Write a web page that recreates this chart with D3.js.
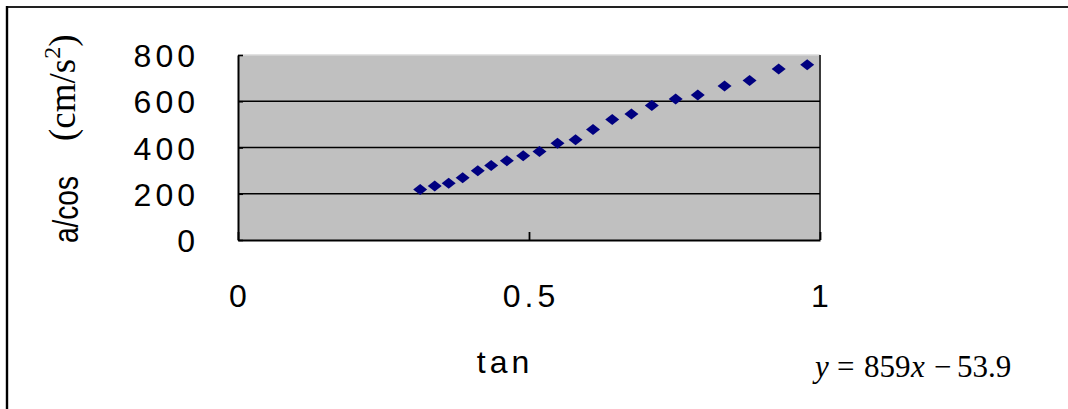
<!DOCTYPE html>
<html>
<head>
<meta charset="utf-8">
<script src="https://cdn.jsdelivr.net/npm/d3@7"></script>
<style>
  html, body { margin: 0; padding: 0; background: #fff; }
  svg { display: block; }
  .tick-label { font-family: "Liberation Sans", Arial, sans-serif; font-size: 32px; letter-spacing: 4px; fill: #000; }
</style>
</head>
<body>
<svg id="chart" width="1068" height="409"></svg>
<script>
// Measured tan(theta) values and the matching a/cos(theta) accelerations (cm/s^2)
const tanValues = [0.313, 0.338, 0.362, 0.386, 0.412, 0.435, 0.462, 0.490, 0.518, 0.549,
                   0.580, 0.610, 0.643, 0.676, 0.711, 0.752, 0.790, 0.836, 0.879, 0.929, 0.978];
const accelValues = [218, 234, 245, 269, 300, 322, 343, 364, 383, 418,
                     434, 478, 521, 545, 582, 610, 627, 666, 690, 740, 758];
const xTicks = [0, 0.5, 1];
const xTickLabels = ["0", "0.5", "1"];
const yTicks = [0, 200, 400, 600, 800];
const yTickLabels = ["0", "200", "400", "600", "800"];
const xTitle = "tan";
// Pieces of the fitted-line equation: [text, italic?, x position]
const fitPieces = [["y", true, 815], ["=", false, 837], ["859", false, 864],
                   ["x", true, 911], ["\u2212", false, 934], ["53.9", false, 957]];

const svg = d3.select("#chart");
const plot = { left: 238, right: 820, top: 55, bottom: 240 };

const x = d3.scaleLinear().domain([0, 1]).range([plot.left, plot.right]);
const y = d3.scaleLinear().domain([0, 800]).range([plot.bottom, plot.top]);

// Outer frame: top and left edges only
svg.append("line").attr("x1", 6).attr("x2", 1068).attr("y1", 7).attr("y2", 7)
  .attr("stroke", "#222").attr("stroke-width", 2.2);
svg.append("line").attr("x1", 7).attr("x2", 7).attr("y1", 6).attr("y2", 409)
  .attr("stroke", "#000").attr("stroke-width", 2.4);

// Plot area background
svg.append("rect")
  .attr("x", plot.left).attr("y", plot.top)
  .attr("width", plot.right - plot.left).attr("height", plot.bottom - plot.top)
  .attr("fill", "#c0c0c0");
svg.append("line").attr("x1", plot.left).attr("x2", plot.right).attr("y1", plot.top).attr("y2", plot.top)
  .attr("stroke", "#d9d9d9").attr("stroke-width", 1.5);
svg.append("line").attr("x1", plot.right).attr("x2", plot.right).attr("y1", plot.top).attr("y2", plot.bottom)
  .attr("stroke", "#3a3a3a").attr("stroke-width", 2);

// Horizontal gridlines
svg.append("g").selectAll("line")
  .data(yTicks.filter(v => v > 0 && v < 800))
  .join("line")
  .attr("x1", plot.left).attr("x2", plot.right)
  .attr("y1", d => y(d)).attr("y2", d => y(d))
  .attr("stroke", "#000").attr("stroke-width", 1.6);

// Y axis (ticks pointing into the plot, labels drawn separately)
const yAxis = svg.append("g")
  .attr("transform", `translate(${plot.left},0)`)
  .call(d3.axisRight(y).tickValues(yTicks).tickSize(5).tickSizeOuter(0).tickFormat(""));
yAxis.select(".domain").attr("stroke", "#000").attr("stroke-width", 2);
yAxis.selectAll(".tick line").attr("stroke", "#000").attr("stroke-width", 1.6);

// X axis (ticks pointing up into the plot)
const xAxis = svg.append("g")
  .attr("transform", `translate(0,${plot.bottom})`)
  .call(d3.axisTop(x).tickValues(xTicks).tickSize(8).tickSizeOuter(0).tickFormat(""));
xAxis.select(".domain").attr("stroke", "#000").attr("stroke-width", 2.2);
xAxis.selectAll(".tick line").attr("stroke", "#000").attr("stroke-width", 1.8);

// Y tick labels
svg.append("g").selectAll("text")
  .data(yTicks)
  .join("text")
  .attr("class", "tick-label")
  .attr("x", 199)
  .attr("y", d => y(d) + 12)
  .attr("text-anchor", "end")
  .text((d, i) => yTickLabels[i]);

// X tick labels
svg.append("g").selectAll("text")
  .data(xTicks)
  .join("text")
  .attr("class", "tick-label")
  .attr("x", d => x(d) + 2)
  .attr("y", 307)
  .attr("text-anchor", "middle")
  .text((d, i) => xTickLabels[i]);

// X axis title
svg.append("text")
  .attr("class", "tick-label")
  .attr("x", 505).attr("y", 373)
  .attr("text-anchor", "middle")
  .text(xTitle);

// Y axis title (rotated): condensed sans part, then the serif unit
svg.append("text")
  .attr("transform", "translate(78,243) rotate(-90) scale(0.8,1)")
  .attr("font-family", "'Liberation Sans', Arial, sans-serif")
  .attr("font-size", 35)
  .text("a/cos");
const unit = svg.append("text")
  .attr("transform", "translate(75,141) rotate(-90)")
  .attr("font-family", "'Liberation Serif', 'Times New Roman', serif")
  .attr("font-size", 37);
unit.append("tspan").text("(cm/s");
unit.append("tspan").attr("dy", -15).attr("font-size", 24).text("2");
unit.append("tspan").attr("dy", 15).text(")");

// Fitted line equation
svg.append("g").selectAll("text")
  .data(fitPieces)
  .join("text")
  .attr("x", d => d[2]).attr("y", 377)
  .attr("font-family", "'Liberation Serif', 'Times New Roman', serif")
  .attr("font-size", 31)
  .attr("font-style", d => d[1] ? "italic" : "normal")
  .text(d => d[0]);

// Data markers: navy diamonds
const diamond = "M0,-5.5 L7,0 L0,5.5 L-7,0 Z";
svg.append("g").selectAll("path")
  .data(tanValues.map((t, i) => [t, accelValues[i]]))
  .join("path")
  .attr("d", diamond)
  .attr("transform", d => `translate(${x(d[0])},${y(d[1])})`)
  .attr("fill", "#000080");
</script>
</body>
</html>
